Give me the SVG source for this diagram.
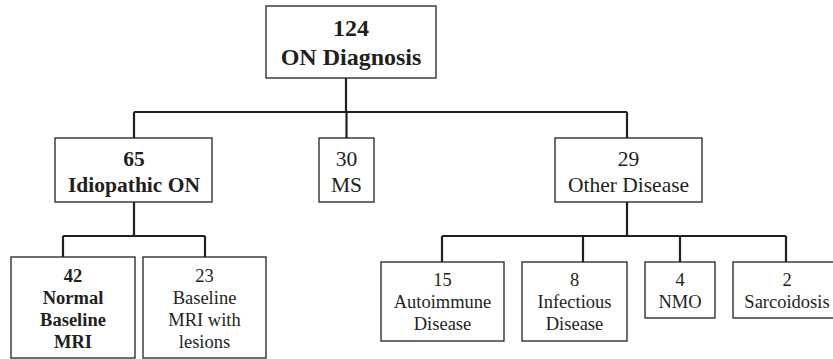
<svg xmlns="http://www.w3.org/2000/svg" width="833" height="359" viewBox="0 0 833 359">
<style>
.box{fill:#fff;stroke:#231f20;stroke-width:1.3}
.ln{fill:none;stroke:#231f20;stroke-width:2.2}
text{font-family:'Liberation Serif','Times New Roman',serif;fill:#231f20;text-anchor:middle}
.b{font-weight:bold}
.t{font-size:24px}
.m{font-size:21.5px}
.s{font-size:18.5px}
</style>
<rect width="833" height="359" fill="#fff"/>
<g id="connectors">
<path class="ln" d="M346,78V112M134,112H627M134,112V138M346.5,112V138M627,112V138"/>
<path class="ln" d="M134,202V236M63,236H205M63,236V257M205,236V257"/>
<path class="ln" d="M627,202V236M442,236H786M442,236V262M583,236V262M680,236V262M786,236V262"/>
</g>
<g id="n124">
<rect class="box" x="266" y="6" width="170" height="72"/>
<text class="b t" x="351" y="36">124</text>
<text class="b t" x="351" y="65">ON Diagnosis</text>
</g>
<g id="n65">
<rect class="box" x="55" y="138" width="157" height="64"/>
<text class="b m" x="134" y="166">65</text>
<text class="b m" x="134" y="192">Idiopathic ON</text>
</g>
<g id="n30">
<rect class="box" x="319" y="138" width="55" height="64"/>
<text class="m" x="346.5" y="166">30</text>
<text class="m" x="346.5" y="192">MS</text>
</g>
<g id="n29">
<rect class="box" x="555" y="138" width="147" height="64"/>
<text class="m" x="628.5" y="166">29</text>
<text class="m" x="628.5" y="192">Other Disease</text>
</g>
<g id="n42">
<rect class="box" x="11" y="257" width="124" height="101"/>
<text class="b s" x="73" y="282">42</text>
<text class="b s" x="73" y="303.5">Normal</text>
<text class="b s" x="73" y="325.5">Baseline</text>
<text class="b s" x="73" y="347.5">MRI</text>
</g>
<g id="n23">
<rect class="box" x="143" y="257" width="123" height="101"/>
<text class="s" x="204.5" y="282">23</text>
<text class="s" x="204.5" y="303.5">Baseline</text>
<text class="s" x="204.5" y="325.5">MRI with</text>
<text class="s" x="204.5" y="347.5">lesions</text>
</g>
<g id="n15">
<rect class="box" x="381" y="262" width="123" height="79"/>
<text class="s" x="442.5" y="286">15</text>
<text class="s" x="442.5" y="308">Autoimmune</text>
<text class="s" x="442.5" y="330">Disease</text>
</g>
<g id="n8">
<rect class="box" x="522" y="262" width="105" height="79"/>
<text class="s" x="574.5" y="286">8</text>
<text class="s" x="574.5" y="308">Infectious</text>
<text class="s" x="574.5" y="330">Disease</text>
</g>
<g id="n4">
<rect class="box" x="645" y="262" width="70" height="56"/>
<text class="s" x="680" y="286">4</text>
<text class="s" x="680" y="308">NMO</text>
</g>
<g id="n2">
<rect class="box" x="733" y="262" width="108" height="56"/>
<text class="s" x="787" y="286">2</text>
<text class="s" x="787" y="308">Sarcoidosis</text>
</g>
</svg>
